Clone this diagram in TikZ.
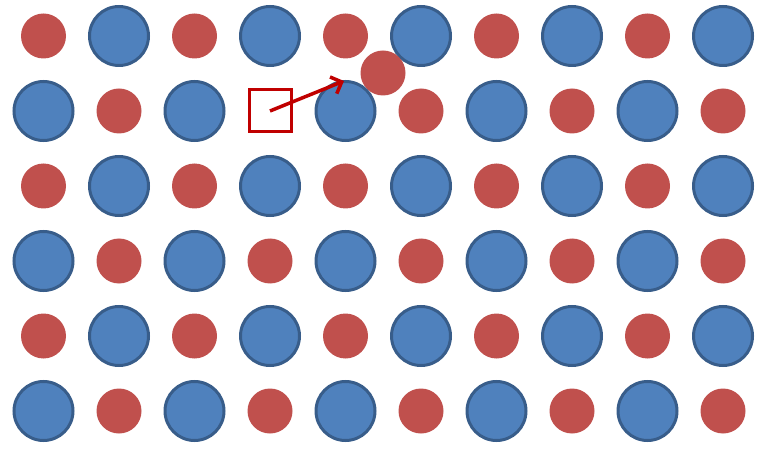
\documentclass[tikz,border=0pt]{standalone}
\usepackage{tikz}
\usetikzlibrary{arrows.meta}
\definecolor{blueFill}{RGB}{79, 129, 189}
\definecolor{blueEdge}{RGB}{56, 93, 138}
\definecolor{redFill}{RGB}{192, 80, 77}
\definecolor{vacRed}{RGB}{192, 0, 0}

\begin{document}
\begin{tikzpicture}[
        x=1pt, y=-1pt,
        anion/.style={
            circle,
            draw=blueEdge,
            fill=blueFill,
            line width=3pt,
            minimum size=59pt,
            inner sep=0pt
        },
        cation/.style={
            circle,
            fill=redFill,
            minimum size=45pt,
            inner sep=0pt
        },
        vacancy/.style={
            rectangle,
            draw=vacRed,
            line width=3pt,
            minimum size=42pt,
            inner sep=0pt
        },
        flecha/.style={
            -{Straight Barb[length=9pt,width=18pt]},
            draw=vacRed,
            line width=3.5pt
        }
    ]

    \useasboundingbox (0,0) rectangle (765,454);

    % lattice
    \foreach \r in {0,...,5}{
        \foreach \c in {0,...,9}{
            \pgfmathtruncatemacro{\kind}{mod(\r+\c,2)}
            \ifnum\r=1 \ifnum\c=3 \def\kind{2}\fi\fi
            \ifcase\kind
                \node[cation] (s-\r-\c) at ({43.5+75.5*\c},{36+75*\r}) {};
            \or
                \node[anion] (s-\r-\c) at ({43.5+75.5*\c},{36+75*\r}) {};
            \or
                \node[vacancy] (vac) at ({43.5+75.5*\c},{36+75*\r}) {};
            \fi
        }
    }

    % interstitial
    \node[cation] (inter) at (383,73) {};
    \coordinate (jump) at (344,81);

    \draw[flecha] (vac.center) -- (jump);

\end{tikzpicture}
\end{document}
